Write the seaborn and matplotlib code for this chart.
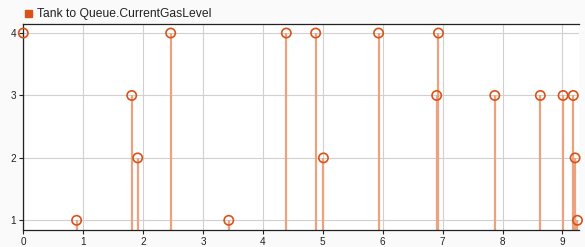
import matplotlib
matplotlib.use("Agg")
import matplotlib.pyplot as plt
import seaborn as sns
import pandas as pd

times = [0.0, 0.89, 1.81, 1.91, 2.46, 3.43, 4.39, 4.88, 5.01, 5.93,
         6.90, 6.93, 7.87, 8.63, 9.01, 9.18, 9.21, 9.25]
levels = [4, 1, 3, 2, 4, 1, 4, 4, 2, 4,
          3, 4, 3, 3, 3, 3, 2, 1]
series_name = "Tank to Queue.CurrentGasLevel"
xticks = [0, 1, 2, 3, 4, 5, 6, 7, 8, 9]
yticks = [1, 2, 3, 4]

df = pd.DataFrame({"t": times, "v": levels})

sns.set_theme(style="white")
plt.rcParams['font.family'] = ['Liberation Sans', 'DejaVu Sans']

col = "#D95319"
stem_col = "#ECA27F"

fig = plt.figure(figsize=(5.85, 2.47), dpi=100)
fig.patch.set_facecolor("#FAFAFA")
ax = fig.add_axes([0.0398, 0.0676, 0.9504, 0.834])
ax.set_facecolor("white")

ax.vlines(df["t"], 0, df["v"], color=stem_col, linewidth=1.6, zorder=2)
sns.scatterplot(data=df, x="t", y="v", ax=ax, marker="o", s=45,
                facecolor="none", edgecolor=col, linewidth=1.2, zorder=3,
                clip_on=False, legend=False)

ax.set_xlim(0, 9.28)
ax.set_ylim(0.84, 4.14)
ax.set_xticks(xticks)
ax.set_yticks(yticks)
ax.grid(True, color="#D0D0D0", linewidth=0.8)
ax.set_axisbelow(True)
ax.set_xlabel("")
ax.set_ylabel("")
for s in ["left", "bottom", "top"]:
    ax.spines[s].set_color("#222222")
    ax.spines[s].set_linewidth(0.9)
ax.spines["right"].set_visible(False)
ax.tick_params(axis="both", labelsize=7.2, colors="#222222", length=3, width=0.8,
               direction="out", pad=2, left=True, bottom=True)

fig.patches.append(plt.Rectangle((25 / 585, 1 - 17 / 247), 7 / 585, 7 / 247,
                                 transform=fig.transFigure, color=col))
fig.text(37 / 585, 1 - 13.5 / 247, series_name, fontsize=8.7, va="center",
         ha="left", color="#222222")

fig.savefig("out.png", dpi=100, facecolor=fig.get_facecolor())
